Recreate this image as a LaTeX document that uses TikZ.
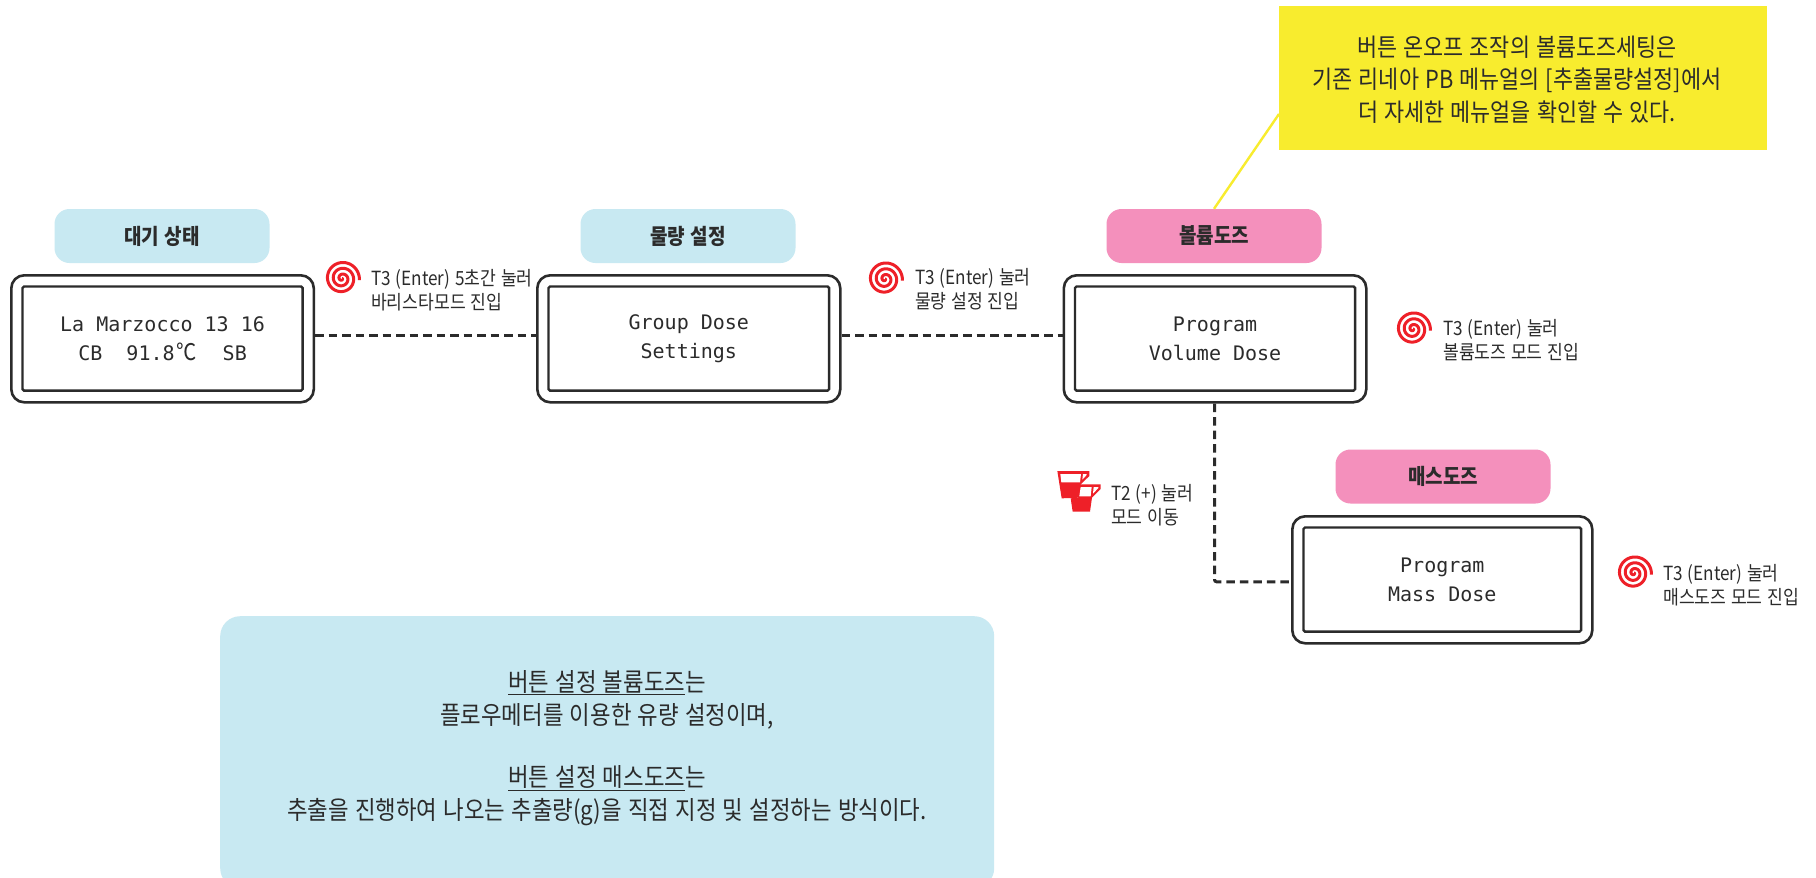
\documentclass[tikz,border=0pt]{standalone}
\usepackage{fontspec}
\newfontfamily\kr[FakeStretch=0.88,WordSpace=1.25]{Noto Sans CJK KR}
\newfontfamily\lcd{DejaVu Sans Mono}
\definecolor{lblue}{HTML}{C8E9F2}
\definecolor{lpink}{HTML}{F490BC}
\definecolor{lyellow}{HTML}{F8EC2E}
\definecolor{spred}{HTML}{EE2028}
\definecolor{ink}{HTML}{2B2B2B}
\usetikzlibrary{calc}
\tikzset{
  x=1pt,y=-1pt,
  outerbox/.style={draw=ink,line width=2.6pt,rounded corners=13pt,fill=white},
  innerbox/.style={draw=ink,line width=2.4pt,rounded corners=1.5pt},
  tag/.style={rounded corners=15pt,minimum width=215pt,minimum height=54pt,inner sep=0pt,text=ink,font=\kr\bfseries\fontsize{21.6}{24}\selectfont},
  link/.style={draw=ink,line width=3pt,dash pattern=on 8.5pt off 5pt},
  hint/.style={anchor=west,align=left,inner sep=0pt,text=ink,font=\kr\fontsize{19.5}{24}\selectfont},
  lcdtext/.style={align=center,inner sep=0pt,text=ink,font=\lcd\fontsize{20}{29}\selectfont},
  note/.style={align=center,inner sep=0pt,text=ink},
  spiral/.pic={\draw[spred,line width=3pt,line cap=butt] plot[smooth,domain=0:1085,samples=160] (\x:{\x/62});}
}
\newcommand{\lcdunit}[6]{% name, x1,y1,x2,y2, text
  \node[outerbox,minimum width=#4pt-#2pt,minimum height=#5pt-#3pt,inner sep=0pt,anchor=north west] (#1) at (#2,#3) {};
  \draw[innerbox] ($(#1.north west)+(12.5,12.5)$) rectangle ($(#1.south east)+(-12.5,-13)$);
  \node[lcdtext] (#1t) at (#1.center) {#6};
}
\begin{document}
\begin{tikzpicture}
\useasboundingbox (0,0) rectangle (1816,878);
\clip (0,0) rectangle (1816,878);
\fill[white] (0,0) rectangle (1816,878);

% blue note, runs off the page bottom
\node[fill=lblue,rounded corners=20pt,minimum width=774pt,minimum height=272pt,inner sep=0pt,anchor=north west] (bluebox) at (220,616) {};
\node[note,font=\kr\fontsize{25.4}{33}\selectfont] (blue1) at (607,699.5) {\underline{버튼 설정 볼륨도즈}는\\플로우메터를 이용한 유량 설정이며,};
\node[note,font=\kr\fontsize{25.4}{33}\selectfont] (blue2) at (607,796) {\underline{버튼 설정 매스도즈}는\\추출을 진행하여 나오는 추출량(g)을 직접 지정 및 설정하는 방식이다.};

% tags
\node[tag,fill=lblue] (tagA) at (162,236) {대기 상태};
\node[tag,fill=lblue] (tagB) at (688,236) {물량 설정};
\node[tag,fill=lpink] (tagC) at (1214,236) {볼륨도즈};
\node[tag,fill=lpink] (tagD) at (1443,476.5) {매스도즈};

% yellow callout
\node[fill=lyellow,minimum width=488pt,minimum height=144pt,inner sep=0pt,anchor=north west] (callout) at (1279,6) {};
\coordinate (calloutleft) at (1279,114);
\draw[lyellow,line width=2.4pt] (calloutleft) -- (tagC.north);
\node[note,font=\kr\fontsize{24.8}{32.5}\selectfont] (calltext) at (1517,79.5) {버튼 온오프 조작의 볼륨도즈세팅은\\기존 리네아 PB 메뉴얼의 [추출물량설정]에서\\더 자세한 메뉴얼을 확인할 수 있다.};

% displays
\lcdunit{A}{10}{274}{312.5}{401}{La Marzocco 13 16\\CB\ \ 91.8\makebox[24pt]{\kr\fontsize{23}{29}\selectfont ℃}\ \ SB}
\lcdunit{B}{536}{274}{839}{401}{Group Dose\\Settings}
\lcdunit{C}{1062.5}{274}{1365}{401}{Program\\Volume Dose}
\lcdunit{D}{1291}{515}{1591}{642}{Program\\Mass Dose}

% connectors
\draw[link] ([yshift=3.5pt]A.east) -- ([yshift=3.5pt]B.west);
\draw[link] ([yshift=3.5pt]B.east) -- ([yshift=3.5pt]C.west);
\draw[link,rounded corners=2pt] ([xshift=-0.5pt]C.south) |- ([yshift=-2pt]D.west);

% spirals
\pic at (342,278.5) {spiral};
\pic at (885,279) {spiral};
\pic at (1413,329) {spiral};
\pic at (1634,573) {spiral};

% hints
\node[hint] (hA) at (371,290) {T3 (Enter) 5초간 눌러\\바리스타모드 진입};
\node[hint] (hB) at (915,289) {T3 (Enter) 눌러\\물량 설정 진입};
\node[hint] (hC) at (1443,340) {T3 (Enter) 눌러\\볼륨도즈 모드 진입};
\node[hint] (hD) at (1663,585) {T3 (Enter) 눌러\\매스도즈 모드 진입};
\node[hint] (hE) at (1111,505) {T2 (+) 눌러\\모드 이동};

% cups icon
\begin{scope}[shift={(1050,465)},x=0.3333pt,y=-0.3333pt]
\fill[spred] (22,18) -- (118,18) -- (118,33) -- (92,58) -- (88,98) -- (35,100) -- cycle;
\fill[white] (31,27) -- (93,27) -- (90,52) -- (34,52) -- cycle;
\fill[white] (99,27) -- (110,27) -- (110,30) -- (97,44) -- cycle;
\fill[spred] (88,58) -- (152,58) -- (152,72) -- (126,98) -- (120,140) -- (68,140) -- (62,100) -- (85,98) -- cycle;
\fill[white] (92,66) -- (125,66) -- (122,94) -- (88,94) -- cycle;
\fill[white] (131,66) -- (145,66) -- (145,69) -- (129,86) -- cycle;
\end{scope}
\end{tikzpicture}
\end{document}
